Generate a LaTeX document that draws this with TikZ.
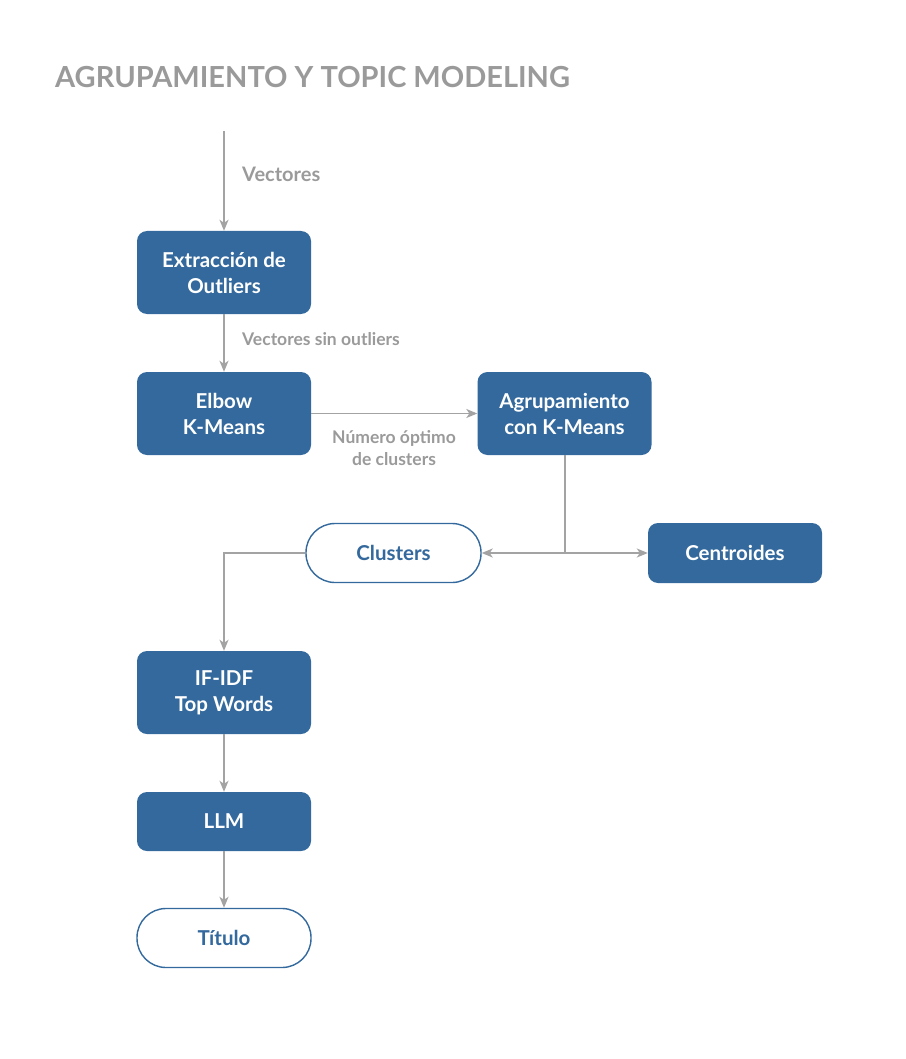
\documentclass[tikz,border=0pt]{standalone}
\usepackage{fontspec}
\setmainfont{Lato}
\usetikzlibrary{arrows.meta}
\definecolor{boxblue}{HTML}{33699D}
\definecolor{flowgray}{HTML}{A3A3A3}
\definecolor{labelgray}{HTML}{9A9A9A}

\begin{document}
\begin{tikzpicture}[x=1pt, y=-1pt,
    procbox/.style={fill=boxblue, rounded corners=10pt, minimum width=174pt,
        text=white, font=\bfseries\fontsize{20.5}{26}\selectfont, align=center,
        inner sep=0pt},
    termbox/.style={draw=boxblue, line width=1.4pt, fill=white,
        rounded corners=29pt, minimum width=174pt, minimum height=59pt,
        text=boxblue, font=\bfseries\fontsize{20.5}{26}\selectfont, inner sep=0pt},
    flow/.style={draw=flowgray, line width=1.5pt,
        -{Stealth[length=11pt, width=9pt, inset=3pt]}},
    flowlabel/.style={text=labelgray, font=\bfseries\fontsize{17.5}{22}\selectfont,
        inner sep=0pt, align=center}]

\useasboundingbox (0,0) rectangle (905,1059);

% --- TITLE ---
\node[anchor=west, text=labelgray, font=\bfseries\fontsize{29}{32}\selectfont,
    inner sep=0pt] (title) at (55,77) {AGRUPAMIENTO Y TOPIC MODELING};

% --- NODES ---
\coordinate (start) at (224,131);
\node[procbox, minimum height=83pt] (extr) at (224,272.5)
    {Extracción de\\Outliers};
\node[procbox, minimum height=83pt] (elbow) at (224,413.5)
    {Elbow\\K-Means};
\node[procbox, minimum height=83pt] (agrup) at (564.5,413.5)
    {Agrupamiento\\con K-Means};
\node[termbox, minimum width=175pt] (clusters) at (393.5,553) {Clusters};
\node[procbox, minimum height=60pt] (centr) at (735,553) {Centroides};
\coordinate (split) at (565,553);
\node[procbox, minimum height=83pt] (tfidf) at (224,692.5)
    {IF-IDF\\Top Words};
\node[procbox, minimum height=59pt] (llm) at (224,821.5) {LLM};
\node[termbox] (titulo) at (224,938) {Título};

% --- CONNECTORS ---
\draw[flow] (start) -- (extr);
\draw[flow] (extr) -- (elbow);
\draw[flow] (elbow) -- (agrup);
\draw[draw=flowgray, line width=1.5pt] (agrup.south -| split) -- (split);
\draw[flow] (split) -- (clusters);
\draw[flow] (split) -- (centr);
\draw[flow] (clusters.west) -| (tfidf.north);
\draw[flow] (tfidf) -- (llm);
\draw[flow] (llm) -- (titulo);

% --- LABELS ---
\node[flowlabel, anchor=west, font=\bfseries\fontsize{20}{24}\selectfont]
    (lblvec) at (242,174) {Vectores};
\node[flowlabel, anchor=west] (lblsin) at (242,339) {Vectores sin outliers};
\node[flowlabel] (lblnum) at (394,448) {Número óptimo\\de clusters};

\end{tikzpicture}
\end{document}
